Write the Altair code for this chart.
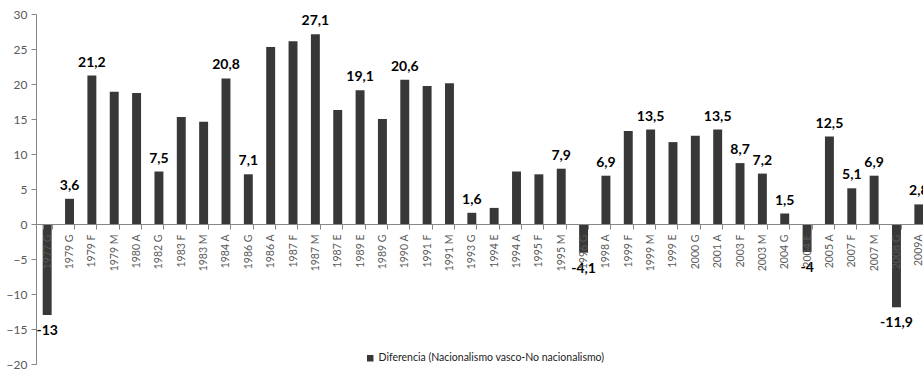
import altair as alt
import pandas as pd

# Electoral contests (year + type) and the Basque nationalism minus non-nationalism gap
categories = [
    "1977 G", "1979 G", "1979 F", "1979 M", "1980 A", "1982 G", "1983 F", "1983 M",
    "1984 A", "1986 G", "1986 A", "1987 F", "1987 M", "1987 E", "1989 E", "1989 G",
    "1990 A", "1991 F", "1991 M", "1993 G", "1994 E", "1994 A", "1995 F", "1995 M",
    "1996 G", "1998 A", "1999 F", "1999 M", "1999 E", "2000 G", "2001 A", "2003 F",
    "2003 M", "2004 G", "2004 E", "2005 A", "2007 F", "2007 M", "2008 G", "2009A",
]
values = [
    -13, 3.6, 21.2, 18.9, 18.7, 7.5, 15.3, 14.6,
    20.8, 7.1, 25.3, 26.1, 27.1, 16.3, 19.1, 15.0,
    20.6, 19.7, 20.1, 1.6, 2.3, 7.5, 7.1, 7.9,
    -4.1, 6.9, 13.3, 13.5, 11.7, 12.6, 13.5, 8.7,
    7.2, 1.5, -4, 12.5, 5.1, 6.9, -11.9, 2.8,
]
# Contests whose value is printed above / below the bar
labelled = [
    "1977 G", "1979 G", "1979 F", "1982 G", "1984 A", "1986 G", "1987 M", "1989 E",
    "1990 A", "1993 G", "1995 M", "1996 G", "1998 A", "1999 M", "2001 A", "2003 F",
    "2003 M", "2004 G", "2004 E", "2005 A", "2007 F", "2007 M", "2008 G", "2009A",
]
y_domain = [-20, 30]
serie = "Diferencia (Nacionalismo vasco-No nacionalismo)"

FONT = "Lato"
BAR = "#383838"
AXIS_GREY = "#868686"
TEXT_GREY = "#595959"


def fmt(v):
    return f"{v:g}".replace(".", ",")


df = pd.DataFrame({"cat": categories, "valor": values})
df["serie"] = serie
df["etiqueta"] = [fmt(v) if c in labelled else "" for c, v in zip(categories, values)]

x = alt.X(
    "cat:N",
    sort=categories,
    title=None,
    scale=alt.Scale(range=[0, 894], paddingInner=0.6, paddingOuter=0.3),
    axis=alt.Axis(
        orient="bottom",
        offset=-140,
        labelAngle=270,
        labelOverlap=False,
        tickBand="extent",
        tickSize=5,
        tickColor=AXIS_GREY,
        domainColor=AXIS_GREY,
        labelColor=TEXT_GREY,
        labelFont=FONT,
        labelFontSize=10.5,
        labelPadding=5,
        zindex=1,
    ),
)
y = alt.Y(
    "valor:Q",
    title=None,
    scale=alt.Scale(domain=y_domain, nice=False),
    axis=alt.Axis(
        tickCount=10,
        labelOverlap=False,
        labelSeparation=0,
        grid=False,
        tickSize=5,
        tickColor=AXIS_GREY,
        domainColor=AXIS_GREY,
        labelColor=TEXT_GREY,
        labelFont=FONT,
        labelFontSize=12,
        labelPadding=4,
    ),
)

base = alt.Chart(df).encode(x=x, y=y)

bars = base.mark_bar().encode(
    color=alt.Color(
        "serie:N",
        scale=alt.Scale(range=[BAR]),
        legend=alt.Legend(
            title=None,
            orient="none",
            legendX=329,
            legendY=339,
            symbolType="square",
            symbolSize=42,
            symbolStrokeWidth=0,
            labelFont=FONT,
            labelFontSize=10.5,
            labelColor="#222222",
            labelOffset=3,
            labelLimit=0,
            padding=0,
        ),
    ),
)

text_style = dict(fontWeight="bold", fontSize=14, font=FONT, color="#000000", baseline="middle")

pos_labels = (
    base.transform_filter("datum.etiqueta != '' && datum.valor >= 0")
    .mark_text(dy=-13, **text_style)
    .encode(text="etiqueta:N")
)
neg_labels = (
    base.transform_filter("datum.etiqueta != '' && datum.valor < 0")
    .mark_text(dy=16, **text_style)
    .encode(text="etiqueta:N")
)

chart = (
    alt.layer(bars, pos_labels, neg_labels)
    .properties(
        width=887,
        height=350,
        autosize=alt.AutoSizeParams(type="none"),
        padding={"left": 36, "top": 14, "right": 0, "bottom": 6},
        background="white",
    )
    .configure_view(stroke=None)
)

chart.save("out.html", embed_options={"renderer": "svg", "actions": False})
